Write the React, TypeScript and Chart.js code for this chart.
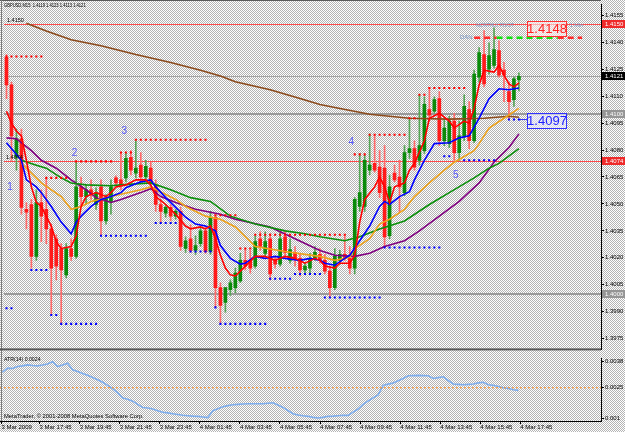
import React, { useEffect, useRef } from "react";
import { Chart, registerables } from "chart.js";
Chart.register(...registerables);

const FONT = '"Liberation Sans", Arial, sans-serif';
Chart.defaults.font.family = FONT;

// ---------- DATA ----------
const TITLE = "GBPUSD,M15  1.4119 1.4123 1.4113 1.4121";

const OPEN = [1.41316,1.41163,1.40759,1.40863,1.40470,1.40497,1.40208,1.40508,1.40470,1.40361,1.40306,1.40252,1.40105,1.40252,1.40208,1.40595,1.40541,1.40579,1.40497,1.40595,1.40405,1.40514,1.40645,1.40634,1.40645,1.40759,1.40672,1.40716,1.40650,1.40699,1.40606,1.40497,1.40448,1.40481,1.40432,1.40459,1.40252,1.40306,1.40241,1.40279,1.40350,1.40235,1.40426,1.40034,1.39952,1.40023,1.40034,1.40072,1.40186,1.40186,1.40154,1.40306,1.40225,1.40306,1.40186,1.40165,1.40317,1.40186,1.40230,1.40197,1.40132,1.40143,1.40197,1.40219,1.40186,1.40126,1.40034,1.40186,1.40219,1.40197,1.40143,1.40486,1.40486,1.40688,1.40726,1.40705,1.40699,1.40323,1.40672,1.40650,1.40563,1.40786,1.40808,1.40743,1.40797,1.41026,1.41016,1.41086,1.40852,1.40836,1.40961,1.40786,1.40879,1.41026,1.40852,1.41206,1.41332,1.41250,1.41272,1.41354,1.41245,1.41125,1.41081,1.4119];
const HIGH = [1.41332,1.41179,1.40917,1.40917,1.40508,1.40525,1.40579,1.40579,1.40645,1.40388,1.40328,1.40279,1.40279,1.40306,1.40732,1.40650,1.40606,1.40634,1.40590,1.40634,1.40552,1.40634,1.40656,1.40786,1.40786,1.40797,1.40852,1.40786,1.40743,1.40732,1.40634,1.40525,1.40497,1.40497,1.40470,1.40481,1.40317,1.40383,1.40323,1.40372,1.40372,1.40459,1.40437,1.40061,1.40034,1.40077,1.40143,1.40225,1.40252,1.40241,1.40323,1.40345,1.40345,1.40334,1.40208,1.40345,1.40350,1.40306,1.40263,1.40225,1.40170,1.40225,1.40263,1.40252,1.40219,1.40154,1.40252,1.40241,1.40323,1.40263,1.40535,1.40781,1.40770,1.40890,1.40879,1.40797,1.40825,1.40661,1.40716,1.40743,1.40825,1.40972,1.40852,1.41108,1.41097,1.41146,1.41097,1.41125,1.40972,1.40988,1.41005,1.40961,1.41108,1.41070,1.41245,1.41370,1.41465,1.41397,1.4148,1.41408,1.41288,1.41179,1.41206,1.4123];
const LOW = [1.41086,1.40743,1.40688,1.40443,1.40361,1.40143,1.40186,1.40290,1.40279,1.39886,1.40077,1.39832,1.40088,1.40186,1.40197,1.40486,1.40497,1.40525,1.40470,1.40323,1.40388,1.40443,1.40601,1.40579,1.40623,1.40661,1.40645,1.40634,1.40634,1.40606,1.40459,1.40394,1.40426,1.40405,1.40415,1.40241,1.40230,1.40230,1.40219,1.40263,1.40225,1.40219,1.39924,1.39832,1.39897,1.39990,1.40006,1.40061,1.40132,1.40115,1.40143,1.40241,1.40208,1.40077,1.40143,1.40154,1.40197,1.40170,1.40154,1.40099,1.40110,1.40115,1.40186,1.40170,1.40110,1.39979,1.40023,1.40165,1.40186,1.40110,1.40110,1.40459,1.40459,1.40661,1.40677,1.40535,1.40257,1.40306,1.40623,1.40454,1.40546,1.40754,1.40688,1.40716,1.40781,1.40961,1.41005,1.40825,1.40825,1.40814,1.40743,1.40743,1.40852,1.40808,1.40841,1.41179,1.41152,1.41223,1.41256,1.41206,1.41070,1.4097,1.41043,1.4113];
const CLOSE = [1.41163,1.40879,1.40863,1.40481,1.40454,1.40208,1.40508,1.40432,1.40361,1.40143,1.40154,1.40132,1.40252,1.40208,1.40595,1.40541,1.40579,1.40552,1.40563,1.40405,1.40535,1.40595,1.40617,1.40606,1.40754,1.40688,1.40699,1.40650,1.40710,1.40617,1.40497,1.40459,1.40481,1.40432,1.40459,1.40263,1.40295,1.40241,1.40268,1.40350,1.40235,1.40426,1.40034,1.39935,1.40034,1.40061,1.40115,1.40186,1.40154,1.40143,1.40290,1.40263,1.40290,1.40110,1.40165,1.40306,1.40230,1.40246,1.40197,1.40132,1.40154,1.40197,1.40230,1.40186,1.40126,1.40034,1.40208,1.40219,1.40197,1.40143,1.40525,1.40563,1.40743,1.40716,1.40688,1.40563,1.40317,1.40595,1.40634,1.40595,1.40786,1.40808,1.40705,1.40825,1.41054,1.40994,1.41081,1.40852,1.40923,1.40961,1.40786,1.40879,1.41043,1.40852,1.41223,1.41343,1.41168,1.41326,1.41359,1.41217,1.41217,1.41070,1.41196,1.4121];

const ATR = [0.00327,0.00347,0.00345,0.00355,0.00358,0.00363,0.00360,0.00358,0.00362,0.00367,0.00379,0.00355,0.00362,0.00371,0.00339,0.00330,0.00321,0.00312,0.00301,0.00290,0.00277,0.00262,0.00246,0.00225,0.00199,0.00193,0.00184,0.00168,0.00153,0.00150,0.00145,0.00137,0.00129,0.00126,0.00122,0.00118,0.00114,0.00112,0.00110,0.00109,0.00106,0.00103,0.00137,0.00147,0.00156,0.00162,0.00166,0.00168,0.00170,0.00171,0.00171,0.00171,0.00171,0.00174,0.00176,0.00165,0.00153,0.00138,0.00122,0.00116,0.00112,0.00109,0.00104,0.00101,0.00104,0.00109,0.00110,0.00112,0.00114,0.00114,0.00130,0.00145,0.00168,0.00185,0.00200,0.00215,0.00262,0.00268,0.00274,0.00285,0.00296,0.00309,0.00310,0.00311,0.00310,0.00309,0.00296,0.00300,0.00304,0.00286,0.00269,0.00267,0.00265,0.00267,0.00269,0.00274,0.00277,0.00265,0.00262,0.00256,0.00250,0.00246,0.00240,0.00237];
const ATR_LEVEL = 0.0025;

// moving averages as [bar, value] readings
const MA_RED = [[0,1.41016],[1,1.40950],[2,1.40906],[3,1.40879],[4,1.40743],[5,1.40595],[6,1.40508],[7,1.40486],[9,1.40377],[10,1.40290],[11,1.40252],[13,1.40263],[14,1.40323],[15,1.40486],[16,1.40541],[18,1.40563],[20,1.40541],[21,1.40563],[22,1.40595],[24,1.40606],[26,1.40634],[28,1.40634],[29,1.40606],[30,1.40541],[32,1.40497],[34,1.40443],[36,1.40377],[37,1.40361],[39,1.40372],[40,1.40361],[41,1.40377],[42,1.40306],[43,1.40214],[44,1.40143],[45,1.40105],[46,1.40099],[47,1.40126],[49,1.40181],[50,1.40208],[52,1.40208],[54,1.40186],[56,1.40208],[58,1.40197],[60,1.40170],[62,1.40197],[63,1.40186],[64,1.40154],[66,1.40143],[67,1.40170],[69,1.40170],[70,1.40214],[71,1.40399],[72,1.40525],[74,1.40595],[75,1.40650],[76,1.40595],[77,1.40508],[78,1.40595],[80,1.40617],[81,1.40688],[82,1.40726],[84,1.40852],[85,1.40977],[87,1.41005],[89,1.40961],[90,1.40923],[92,1.40961],[93,1.40950],[94,1.41032],[95,1.41163],[96,1.41245],[98,1.41234],[99,1.41272],[100,1.41217],[101,1.41168],[102,1.41152],[103,1.41174]];
const MA_BLUE = [[0,1.40841],[3,1.40743],[4,1.40634],[6,1.40595],[7,1.40563],[9,1.40486],[11,1.40399],[13,1.40334],[14,1.40399],[15,1.40432],[17,1.40486],[19,1.40525],[21,1.40541],[23,1.40563],[24,1.40590],[27,1.40623],[29,1.40634],[30,1.40595],[32,1.40535],[34,1.40481],[36,1.40426],[38,1.40388],[40,1.40377],[42,1.40350],[43,1.40268],[45,1.40197],[47,1.40165],[48,1.40170],[50,1.40208],[52,1.40197],[54,1.40208],[56,1.40197],[59,1.40186],[61,1.40197],[63,1.40186],[64,1.40170],[66,1.40159],[68,1.40197],[69,1.40214],[71,1.40295],[73,1.40377],[75,1.40486],[76,1.40514],[77,1.40497],[79,1.40541],[81,1.40568],[82,1.40634],[84,1.40743],[86,1.40836],[89,1.40841],[91,1.40868],[93,1.40879],[95,1.40977],[97,1.41086],[99,1.41141],[101,1.41136],[103,1.41146]];
const MA_ORANGE = [[3,1.40726],[7,1.40617],[11,1.40541],[13,1.40470],[15,1.40486],[17,1.40514],[21,1.40541],[27,1.40579],[29,1.40595],[34,1.40525],[36,1.40486],[40,1.40432],[43,1.40415],[46,1.40372],[50,1.40263],[56,1.40235],[60,1.40219],[63,1.40208],[66,1.40186],[69,1.40203],[70,1.40252],[73,1.40306],[75,1.40388],[77,1.40415],[80,1.40470],[82,1.40541],[85,1.40617],[88,1.40688],[90,1.40732],[94,1.40797],[95,1.40836],[97,1.40923],[100,1.40977],[103,1.41032]];
const MA_GREEN = [[3,1.40743],[6,1.40716],[8,1.40699],[11,1.40645],[13,1.40617],[16,1.40606],[21,1.40601],[23,1.40606],[29,1.40617],[33,1.40579],[37,1.40535],[41,1.40514],[45,1.40432],[50,1.40388],[56,1.40350],[60,1.40334],[63,1.40317],[68,1.40295],[71,1.40317],[75,1.40361],[80,1.40405],[85,1.40497],[89,1.40563],[94,1.40645],[97,1.40699],[99,1.40726],[103,1.40808]];
const MA_PURPLE = [[0,1.40868],[2,1.40863],[5,1.40797],[7,1.40743],[10,1.40699],[13,1.40634],[16,1.40579],[18,1.40535],[21,1.40508],[23,1.40525],[27,1.40563],[29,1.40585],[31,1.40541],[34,1.40508],[38,1.40470],[43,1.40443],[46,1.40415],[53,1.40372],[58,1.40306],[63,1.40241],[66,1.40214],[70,1.40208],[73,1.40225],[76,1.40263],[80,1.40295],[83,1.40350],[87,1.40432],[91,1.40514],[95,1.40617],[98,1.40732],[101,1.40814],[103,1.40890]];
const MA_BROWN = [[4,1.41506],[8,1.41463],[13,1.41414],[19,1.41381],[26,1.41332],[33,1.41288],[39,1.41245],[43,1.41212],[46,1.41180],[53,1.41136],[59,1.41087],[63,1.41054],[66,1.41037],[73,1.40999],[81,1.40977],[89,1.40972],[96,1.40977],[101,1.40988],[103,1.40983]];

// fractal levels: [price, fromBar, toBar]
const RED_LEVELS = [[1.41321,0,7],[1.40645,8,12],[1.40737,14,21],[1.40786,23,25],[1.40857,26,40],[1.40437,42,46],[1.40252,47,49],[1.40328,50,68],[1.40776,70,72],[1.40885,73,80],[1.40977,81,82],[1.41108,83,84],[1.41146,85,92]];
const BLUE_LEVELS = [[1.39919,0,1],[1.40132,5,8],[1.39881,9,10],[1.39832,11,18],[1.40323,19,28],[1.40394,30,34],[1.40235,37,41],[1.39924,42,42],[1.39832,43,52],[1.40083,53,57],[1.40110,58,63],[1.39979,64,75],[1.40257,76,87],[1.40765,88,89],[1.40743,92,98],[1.4097,101,103]];

const HLINE_PRICES = [1.4150, 1.4121, 1.4100, 1.4074, 1.4000];
const PRICE_TICKS = [1.3975, 1.3990, 1.4005, 1.4020, 1.4035, 1.4050, 1.4065, 1.4080, 1.4095, 1.4110, 1.4125, 1.4140, 1.4155];
const ATR_TICKS = [0.001, 0.0025, 0.0038];
const ATR_TICK_LABELS = ["0.001", "0.0025", "0.0038"];
const TIME_TICK_BARS = [0, 7, 15, 23, 31, 39, 47, 55, 63, 71, 79, 87, 95, 103];
const TIME_TICK_LABELS = ["3 Mar 2009", "3 Mar 17:45", "3 Mar 19:45", "3 Mar 21:45", "3 Mar 23:45", "4 Mar 01:45", "4 Mar 03:45", "4 Mar 05:45", "4 Mar 07:45", "4 Mar 09:45", "4 Mar 11:45", "4 Mar 13:45", "4 Mar 15:45", "4 Mar 17:45"];

const WAVE_LABELS = ["1", "2", "3", "4", "5"];
const WAVE_BARS = [0.7, 13.7, 23.7, 69.3, 90.3];
const WAVE_PRICES = [1.40595, 1.40781, 1.40906, 1.40841, 1.40661];

const HIGH_MARK = 1.4148;
const LOW_MARK = 1.4097;
const DAN_PRICE = 1.41425;
const DAN_RED1 = [94, 98.5];
const DAN_GREEN = [98.5, 110.8];
const DAN_RED2 = [110.8, 115.7];

// ---------- STYLE ----------
const XMIN = -0.5, XMAX = 119.5;
const PRICE_MIN = 1.3969, PRICE_MAX = 1.4161;
const ATR_MIN = 0.00086, ATR_MAX = 0.00394;
const HLINE_COLORS = ["#ff4a4a", "#a4a4a4", "#9a9a9a", "#ff4a4a", "#9a9a9a"];
const HLINE_WIDTHS = [1, 1, 2, 1, 2];
const HLINE_BOX = ["#ee2a2a", "#000000", "#959595", "#ee2a2a", "#959595"];

function makePattern(ctx: CanvasRenderingContext2D) {
  const c = document.createElement("canvas");
  c.width = 2; c.height = 2;
  const g = c.getContext("2d")!;
  g.fillStyle = "#ffffff"; g.fillRect(0, 0, 2, 2);
  g.fillStyle = "#b4b4b4"; g.fillRect(0, 0, 1, 1); g.fillRect(1, 1, 1, 1);
  return ctx.createPattern(c, "repeat");
}

function txt(ctx: CanvasRenderingContext2D, s: string, x: number, y: number, size: number, color: string, opts: any = {}) {
  ctx.save();
  ctx.font = `${opts.bold ? "bold " : ""}${size}px ${FONT}`;
  ctx.fillStyle = color;
  ctx.textBaseline = "middle";
  ctx.textAlign = opts.align || "left";
  ctx.translate(x, y);
  ctx.scale(opts.sx || 1, 1);
  ctx.fillText(s, 0, 0);
  ctx.restore();
}

const bgPlugin = {
  id: "bgPattern",
  beforeDraw(chart: any) {
    const ctx = chart.ctx;
    ctx.save();
    ctx.fillStyle = makePattern(ctx);
    ctx.fillRect(0, 0, chart.width, chart.height);
    ctx.restore();
  },
};

const mainDecor = {
  id: "mainDecor",
  beforeDatasetsDraw(chart: any) {
    const { ctx, chartArea: a, scales } = chart;
    const y = scales.y;
    ctx.save();
    HLINE_PRICES.forEach((p, i) => {
      const py = Math.round(y.getPixelForValue(p)) + (HLINE_WIDTHS[i] === 1 ? 0.5 : 0);
      ctx.strokeStyle = HLINE_COLORS[i];
      ctx.lineWidth = HLINE_WIDTHS[i];
      ctx.beginPath(); ctx.moveTo(a.left, py); ctx.lineTo(a.right, py); ctx.stroke();
    });
    ctx.restore();
  },
  afterDraw(chart: any) {
    const { ctx, chartArea: a, scales } = chart;
    const x = scales.x, y = scales.y;
    ctx.save();
    // frame
    ctx.fillStyle = "#5a5a5a"; ctx.fillRect(0, 0, a.right, 1);
    ctx.fillStyle = "#7a7a7a"; ctx.fillRect(1, 0, 1, chart.height);
    ctx.fillStyle = "#555555"; ctx.fillRect(0, a.bottom - 1, a.right, 2);
    // axis boxes
    HLINE_PRICES.forEach((p, i) => {
      const py = Math.round(y.getPixelForValue(p));
      ctx.fillStyle = HLINE_BOX[i];
      ctx.fillRect(a.right + 1, py - 4, 24, 8);
      txt(ctx, p.toFixed(4), a.right + 4, py + 0.5, 6, "#ffffff");
    });
    // title and labels
    txt(ctx, TITLE, 4, 6, 5, "#000000", { sx: 0.82 });
    txt(ctx, "1.4150", 7, y.getPixelForValue(1.4150) - 4, 5.5, "#000000");
    txt(ctx, "1.4074", 6, y.getPixelForValue(1.4074) - 3, 5.5, "#000000");
    WAVE_LABELS.forEach((s, i) => {
      txt(ctx, s, x.getPixelForValue(WAVE_BARS[i]), y.getPixelForValue(WAVE_PRICES[i]), 10, "#5a5aff", { align: "center" });
    });
    // high mark box
    const bx = Math.round(x.getPixelForValue(104.7));
    const hy = Math.round(y.getPixelForValue(HIGH_MARK));
    ctx.fillStyle = "rgba(255,235,235,0.6)"; ctx.fillRect(bx, hy - 7, 39, 15);
    ctx.strokeStyle = "#ff3030"; ctx.lineWidth = 1; ctx.strokeRect(bx + 0.5, hy - 6.5, 39, 15);
    txt(ctx, HIGH_MARK.toFixed(4), bx + 20, hy + 1, 13, "#ff2020", { align: "center" });
    // low mark box
    const ly = Math.round(y.getPixelForValue(LOW_MARK));
    ctx.fillStyle = "rgba(235,235,255,0.6)"; ctx.fillRect(bx, ly - 7, 39, 15);
    ctx.strokeStyle = "#3030ff"; ctx.strokeRect(bx + 0.5, ly - 6.5, 39, 15);
    txt(ctx, LOW_MARK.toFixed(4), bx + 20, ly + 1, 13, "#2020ff", { align: "center" });
    // pivot texts
    txt(ctx, "MONTHLY PIVOT", x.getPixelForValue(94.4), y.getPixelForValue(1.4150) + 1, 5.5, "#7b98c6", { sx: 0.85 });
    txt(ctx, "1 Min", x.getPixelForValue(113.2), y.getPixelForValue(1.4150) + 1, 5.5, "#7b98c6");
    txt(ctx, "DAN", x.getPixelForValue(93.7), y.getPixelForValue(DAN_PRICE), 6, "#7b98c6", { align: "right" });
    ctx.restore();
  },
};

const atrDecor = {
  id: "atrDecor",
  afterDraw(chart: any) {
    const { ctx, chartArea: a } = chart;
    ctx.save();
    ctx.fillStyle = "#7a7a7a"; ctx.fillRect(1, 0, 1, a.bottom);
    txt(ctx, "ATR(14) 0.0024", 4, 6, 5.2, "#000000");
    txt(ctx, "MetaTrader, \u00A9 2001-2008 MetaQuotes Software Corp.", 4, 62, 5.8, "#000000");
    ctx.restore();
  },
};

const pairs = (arr: number[][]) => arr.map(([b, v]) => ({ x: b, y: v }));
const lineDS = (arr: number[][], color: string, width = 1.6) => ({
  type: "line", data: pairs(arr), borderColor: color, borderWidth: width,
  pointRadius: 0, tension: 0, fill: false, order: 1,
});
const levelDots = (levels: number[][], color: string) => {
  const pts: any[] = [];
  levels.forEach(([p, f, t]) => { for (let b = f; b <= t; b++) pts.push({ x: b, y: p }); });
  return {
    type: "line", data: pts, showLine: false, pointStyle: "rect", pointRadius: 1.45,
    pointBackgroundColor: color, pointBorderWidth: 0, borderColor: color, order: 0,
  };
};
const segDS = (range: number[], price: number, color: string, dash: number[] | undefined, width: number) => ({
  type: "line", data: [{ x: range[0], y: price }, { x: range[1], y: price }], borderColor: color,
  borderWidth: width, borderDash: dash, pointRadius: 0, order: 0,
});

function mainConfig(): any {
  const idx = OPEN.map((_, i) => i);
  const up = (i: number) => CLOSE[i] >= OPEN[i];
  return {
    type: "bar",
    data: {
      datasets: [
        levelDots(RED_LEVELS, "#ff0000"),
        levelDots(BLUE_LEVELS, "#0000ff"),
        segDS(DAN_RED1, DAN_PRICE, "#ff2a2a", [6, 4], 2.5),
        segDS(DAN_GREEN, DAN_PRICE, "#10e010", [6, 4], 2.5),
        segDS(DAN_RED2, DAN_PRICE, "#ff2a2a", [6, 4], 2.5),
        segDS([103, 104.7], LOW_MARK, "#3030ff", undefined, 1),
        lineDS(MA_RED, "#ff0000"),
        lineDS(MA_BLUE, "#0000ff"),
        lineDS(MA_ORANGE, "#eea21b"),
        lineDS(MA_GREEN, "#0a8f0a"),
        lineDS(MA_PURPLE, "#800080"),
        lineDS(MA_BROWN, "#8b4a1c"),
        {
          type: "bar",
          data: idx.map((i) => ({ x: i, y: [Math.min(OPEN[i], CLOSE[i]), Math.max(OPEN[i], CLOSE[i])] })),
          backgroundColor: idx.map((i) => (up(i) ? "#0a8a0a" : "#ff1a1a")),
          barThickness: 3, grouped: false, minBarLength: 1, borderWidth: 0, order: 2,
        },
        {
          type: "bar",
          data: idx.map((i) => ({ x: i, y: [LOW[i], HIGH[i]] })),
          backgroundColor: idx.map((i) => (up(i) ? "#55a555" : "#ff6a6a")),
          barThickness: 1, grouped: false, minBarLength: 1, borderWidth: 0, order: 3,
        },
      ],
    },
    options: {
      responsive: false, animation: false, events: [],
      layout: { padding: { left: 0, right: 0, top: 1, bottom: 1 } },
      plugins: { legend: { display: false }, tooltip: { enabled: false } },
      scales: {
        x: { type: "linear", min: XMIN, max: XMAX, bounds: "data", offset: false, display: false },
        y: {
          type: "linear", position: "right", min: PRICE_MIN, max: PRICE_MAX, bounds: "data",
          afterBuildTicks: (s: any) => { s.ticks = PRICE_TICKS.map((v) => ({ value: v })); },
          afterFit: (s: any) => { s.width = 24; },
          ticks: { callback: (v: any) => Number(v).toFixed(4), font: { size: 6, family: FONT }, color: "#000", padding: 1, autoSkip: false },
          grid: { drawOnChartArea: false, tickLength: 3, color: "#000" },
          border: { display: true, color: "#000", width: 1 },
        },
      },
    },
    plugins: [bgPlugin, mainDecor],
  };
}

function atrConfig(): any {
  return {
    type: "line",
    data: {
      datasets: [
        segDS([XMIN, XMAX], ATR_LEVEL, "#ff8a1a", [2, 2], 1),
        { data: ATR.map((v, i) => ({ x: i, y: v })), borderColor: "#7eaeee", borderWidth: 1.6, pointRadius: 0, tension: 0 },
      ],
    },
    options: {
      responsive: false, animation: false, events: [],
      layout: { padding: { left: 0, right: 0, top: 1, bottom: 0 } },
      plugins: { legend: { display: false }, tooltip: { enabled: false } },
      scales: {
        x: {
          type: "linear", min: XMIN, max: XMAX, bounds: "data", offset: false,
          afterBuildTicks: (s: any) => { s.ticks = TIME_TICK_BARS.map((b, i) => ({ value: i === 0 ? b - 0.2 : b + 0.4 })); },
          afterFit: (s: any) => { s.height = 11; },
          ticks: {
            autoSkip: false, maxRotation: 0, minRotation: 0, align: "start", padding: 0,
            font: { size: 6, family: FONT }, color: "#000",
            callback: (_v: any, i: number) => TIME_TICK_LABELS[i],
          },
          grid: { drawOnChartArea: false, tickLength: 3, color: "#000" },
          border: { display: true, color: "#000", width: 1 },
        },
        y: {
          type: "linear", position: "right", min: ATR_MIN, max: ATR_MAX, bounds: "data",
          afterBuildTicks: (s: any) => { s.ticks = ATR_TICKS.map((v) => ({ value: v })); },
          afterFit: (s: any) => { s.width = 24; },
          ticks: { callback: (_v: any, i: number) => ATR_TICK_LABELS[i], font: { size: 6, family: FONT }, color: "#000", padding: 1, autoSkip: false },
          grid: { drawOnChartArea: false, tickLength: 3, color: "#000" },
          border: { display: true, color: "#000", width: 1 },
        },
      },
    },
    plugins: [bgPlugin, atrDecor],
  };
}

export default function App() {
  const mainRef = useRef<HTMLCanvasElement | null>(null);
  const atrRef = useRef<HTMLCanvasElement | null>(null);
  useEffect(() => {
    document.body.style.margin = "0";
    const c1 = new Chart(mainRef.current as HTMLCanvasElement, mainConfig());
    const c2 = new Chart(atrRef.current as HTMLCanvasElement, atrConfig());
    return () => { c1.destroy(); c2.destroy(); };
  }, []);
  return (
    <div style={{ position: "absolute", left: 0, top: 0, width: 625, height: 432, overflow: "hidden" }}>
      <canvas ref={mainRef} width={625} height={354} style={{ position: "absolute", left: 0, top: 0, width: 625, height: 354 }} />
      <canvas ref={atrRef} width={625} height={78} style={{ position: "absolute", left: 0, top: 354, width: 625, height: 78 }} />
    </div>
  );
}
